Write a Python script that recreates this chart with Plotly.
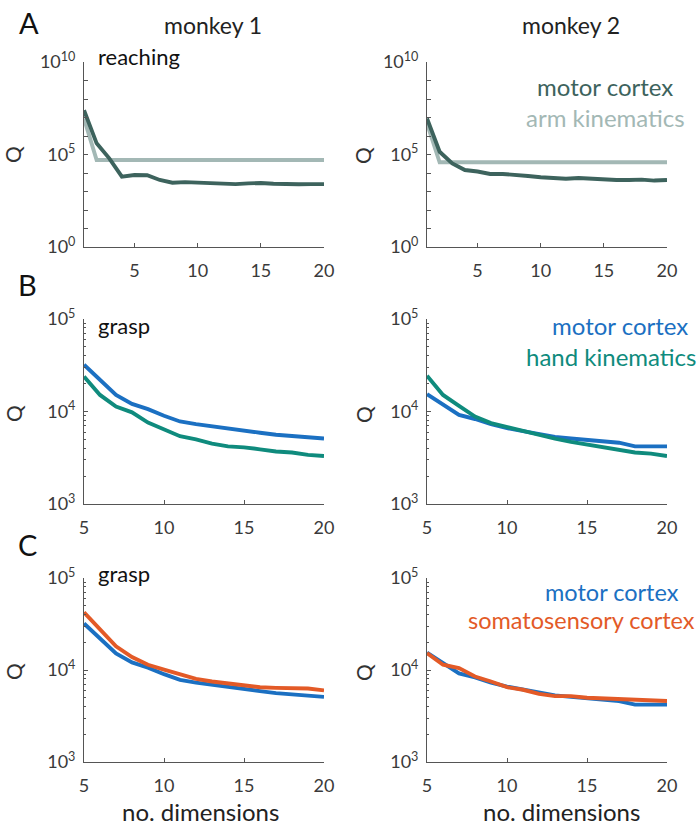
import plotly.graph_objects as go
from plotly.subplots import make_subplots

W, H = 699, 826

# ---------------- data ----------------
dims_reach = list(range(1, 21))
dims_grasp = list(range(5, 21))

reach_m1_motor = [2.5e7, 4.0e5, 6.2e4, 6300, 7800, 7600, 4200, 3000, 3200, 3000,
                  2600, 2600, 2500, 2750, 2900, 2600, 2450, 2450, 2500, 2500]
reach_m1_arm = [8.9e6] + [5.0e4] * 19
reach_m2_motor = [8.9e6, 1.4e5, 3.3e4, 1.45e4, 1.2e4, 8900, 8900, 8100, 6900, 5900,
                  5400, 4900, 5400, 4900, 4200, 4200, 4200, 4400, 3900, 4200]
reach_m2_arm = [4.8e6] + [3.8e4] * 19

grasp_m1_motor = [32000, 22000, 15100, 12100, 10600, 9000, 7800, 7300, 6900, 6500,
                  6100, 5900, 5600, 5400, 5200, 5100]
grasp_m1_hand = [23900, 15100, 11300, 9800, 7600, 6400, 5400, 5000, 4500, 4200,
                 4100, 3900, 3700, 3600, 3400, 3300]
grasp_m2_motor = [15400, 11800, 9200, 8300, 7300, 6600, 6100, 5600, 5300, 5100,
                  4900, 4800, 4600, 4200, 4200, 4200]
grasp_m2_hand = [24300, 15100, 11500, 8800, 7500, 6800, 6100, 5500, 5100, 4700,
                 4400, 4100, 3800, 3600, 3500, 3300]
grasp_m1_somato = [42400, 27400, 18100, 13800, 11400, 10100, 9100, 8000, 7500, 7200,
                   6900, 6500, 6400, 6300, 6300, 6000]
grasp_m2_somato = [15300, 11400, 10500, 8500, 7500, 6500, 6100, 5500, 5200, 5200,
                   5000, 4900, 4800, 4700, 4700, 4600]

x_ticks = [5, 10, 15, 20]
col_titles = ["monkey 1", "monkey 2"]

# ---------------- styles ----------------
C_DARK = "#3d635d"
C_LIGHT = "#a3b8b5"
C_BLUE = "#1b70c2"
C_TEAL = "#0f8b7d"
C_ORANGE = "#e35a27"
AX = "#555555"
TXT = "#3a3a3a"
FONT = "Lato"
LW = 3.9

fig = make_subplots(rows=3, cols=2)

xdom = [[84 / W, 324 / W], [427 / W, 667 / W]]
ypix = [(62, 247), (319, 504), (578, 762)]
ydom = [[1 - b / H, 1 - t / H] for t, b in ypix]


def add(row, col, x, y, color):
    fig.add_trace(go.Scatter(x=x, y=y, mode="lines",
                             line=dict(color=color, width=LW),
                             showlegend=False, hoverinfo="skip"),
                  row=row, col=col)


add(1, 1, dims_reach, reach_m1_arm, C_LIGHT)
add(1, 1, dims_reach, reach_m1_motor, C_DARK)
add(1, 2, dims_reach, reach_m2_arm, C_LIGHT)
add(1, 2, dims_reach, reach_m2_motor, C_DARK)
add(2, 1, dims_grasp, grasp_m1_hand, C_TEAL)
add(2, 1, dims_grasp, grasp_m1_motor, C_BLUE)
add(2, 2, dims_grasp, grasp_m2_motor, C_BLUE)
add(2, 2, dims_grasp, grasp_m2_hand, C_TEAL)
add(3, 1, dims_grasp, grasp_m1_motor, C_BLUE)
add(3, 1, dims_grasp, grasp_m1_somato, C_ORANGE)
add(3, 2, dims_grasp, grasp_m2_motor, C_BLUE)
add(3, 2, dims_grasp, grasp_m2_somato, C_ORANGE)

# y tick definitions
a_vals = [10 ** k for k in range(0, 11)]
a_text = ["10<sup>%d</sup>" % k if k in (0, 5, 10) else "" for k in range(0, 11)]
bc_vals = [1e3, 1e4, 1e5]
bc_text = ["10<sup>3</sup>", "10<sup>4</sup>", "10<sup>5</sup>"]
minor_vals = [m * 10 ** k for k in (3, 4) for m in range(2, 10)]

for r in range(1, 4):
    for c in range(1, 3):
        xr = [1, 20] if r == 1 else [5, 20]
        fig.update_xaxes(row=r, col=c, domain=xdom[c - 1], range=xr,
                         tickvals=x_ticks, ticks="inside", ticklen=4,
                         tickcolor=AX, showline=True, linecolor=AX, linewidth=1,
                         showgrid=False, zeroline=False, mirror=False,
                         automargin=False,
                         tickfont=dict(family=FONT, size=18, color=TXT),
                         ticklabelstandoff=7)
        if r == 1:
            fig.update_yaxes(row=r, col=c, type="log", range=[0, 10],
                             tickvals=a_vals, ticktext=a_text)
        else:
            fig.update_yaxes(row=r, col=c, type="log", range=[3, 5],
                             tickvals=bc_vals, ticktext=bc_text,
                             minor=dict(tickmode="array", tickvals=minor_vals,
                                        ticks="inside", ticklen=2, tickcolor=AX))
        fig.update_yaxes(row=r, col=c, domain=ydom[r - 1], ticks="inside",
                         ticklen=4, tickcolor=AX, showline=True, linecolor=AX,
                         linewidth=1, showgrid=False, zeroline=False,
                         automargin=False,
                         tickfont=dict(family=FONT, size=18, color=TXT),
                         ticklabelstandoff=4)

ann = []


def text(px, py, s, size, color="#222222", xanchor="center", angle=0):
    ann.append(dict(x=px / W, y=1 - py / H, xref="paper", yref="paper",
                    text=s, showarrow=False, xanchor=xanchor, yanchor="middle",
                    textangle=angle,
                    font=dict(family=FONT, size=size, color=color)))


# panel letters
text(29, 22, "A", 29, "#111111")
text(27, 284, "B", 29, "#111111")
text(27, 544, "C", 29, "#111111")
# column titles
text(213, 25, col_titles[0], 23)
text(571, 25, col_titles[1], 23)
# panel labels
text(96, 57, "reaching", 22, "#111111", "left")
text(96, 325, "grasp", 22, "#111111", "left")
text(96, 573, "grasp", 22, "#111111", "left")
# Q labels
for cx in (13, 363):
    for cy in (155, 414, 672):
        text(cx, cy, "Q", 21, "#333333", angle=-90)
# x-axis titles
text(200, 811, "no. dimensions", 24, "#222222")
text(561, 811, "no. dimensions", 24, "#222222")
# legends
text(605, 87, "motor cortex", 24, C_DARK)
text(605, 118, "arm kinematics", 24, C_LIGHT)
text(620, 325, "motor cortex", 24, C_BLUE)
text(611, 356, "hand kinematics", 24, C_TEAL)
text(612, 592, "motor cortex", 23.5, C_BLUE)
text(581, 620, "somatosensory cortex", 23.5, C_ORANGE)

fig.update_layout(width=W, height=H, margin=dict(l=0, r=0, t=0, b=0),
                  plot_bgcolor="white", paper_bgcolor="white",
                  annotations=ann, showlegend=False,
                  font=dict(family=FONT))

fig.write_html("out.html",
               config={"displayModeBar": False},
               post_script="document.body.style.margin='0px';"
                           "document.body.style.overflow='hidden';")
